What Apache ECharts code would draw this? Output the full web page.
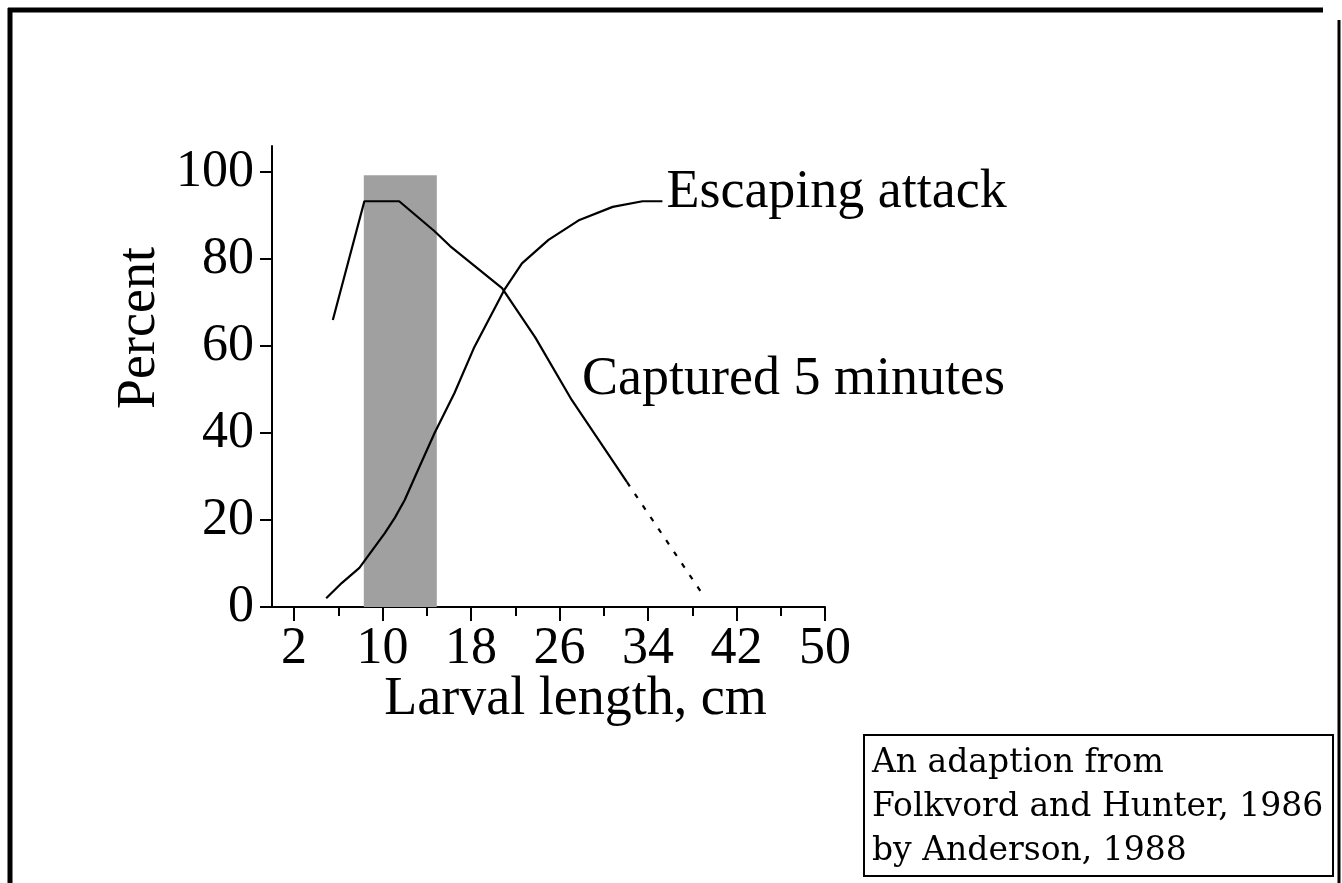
<!DOCTYPE html>
<html>
<head>
    <meta charset="utf-8">
    <title>Larval length</title>
    <script src="https://cdn.jsdelivr.net/npm/echarts@6/dist/echarts.min.js"></script>
    <style>
        body { margin: 0; background: #fff; }
        #chart1 { width: 1342px; height: 883px; }
    </style>
</head>
<body>
<div id="chart1"></div>
<script type="text/javascript">
    // values (x = larval length, y = percent)
    var capturedSolid = [[5.5, 66], [8.35, 93.3], [11.5, 93.3], [14.7, 86.4], [16.1, 83], [20.8, 73.3],
        [23.8, 62], [27.1, 47.6], [32.1, 28.7]];
    var capturedDashed = [[32.1, 28.7], [39.1, 2.3]];
    var escaping = [[4.9, 2], [6.3, 5.5], [7.9, 9], [10.2, 17], [11.1, 20.5], [12, 24.6], [13.2, 31.5],
        [14.7, 40], [16.5, 49.2], [18.3, 59.8], [21, 72.9], [22.6, 79], [25, 84.4], [27.8, 89],
        [30.8, 92], [33.5, 93.3], [35.3, 93.3]];
    var shadeBand = [8.3, 14.9, 99.3];
    var xLabels = [2, 10, 18, 26, 34, 42, 50];
    var xMinorTicks = [6, 14, 22, 30, 38, 46];
    var yLabels = [0, 20, 40, 60, 80, 100];
    var noteLines = ['An adaption from', 'Folkvord and Hunter, 1986', 'by Anderson, 1988'];

    var serif = '"Liberation Serif", "Times New Roman", serif';
    var black = '#000';

    var myChart1 = echarts.init(document.getElementById('chart1'));
    myChart1.setOption({
        backgroundColor: '#fff',
        animation: false,
        grid: { left: 272, top: 146, width: 553, height: 461 },
        xAxis: [{
            type: 'value', min: 0, max: 50,
            name: 'Larval length, cm', nameLocation: 'middle', nameGap: 66, nameMoveOverlap: false,
            nameTextStyle: { fontFamily: serif, fontSize: 54, color: black, padding: [0, 0, 0, 54] },
            axisLine: { lineStyle: { color: black, width: 2 } },
            axisTick: { show: true, length: 14, customValues: xLabels, lineStyle: { color: black, width: 2 } },
            axisLabel: { customValues: xLabels, margin: 16, fontFamily: serif, fontSize: 52, color: black },
            splitLine: { show: false }
        }, {
            // shorter in-between ticks
            type: 'value', min: 0, max: 50, position: 'bottom', gridIndex: 0,
            axisLine: { show: false },
            axisTick: { show: true, length: 9, customValues: xMinorTicks, lineStyle: { color: black, width: 2 } },
            axisLabel: { show: false },
            splitLine: { show: false }
        }],
        yAxis: {
            type: 'value', min: 0, max: 106,
            axisLine: { show: true, lineStyle: { color: black, width: 2 } },
            axisTick: { show: true, length: 12, customValues: yLabels, lineStyle: { color: black, width: 2 } },
            axisLabel: { customValues: yLabels, margin: 18, fontFamily: serif, fontSize: 52, color: black },
            splitLine: { show: false }
        },
        series: [{
            name: 'Escaping attack', type: 'line', data: escaping,
            symbol: 'none', lineStyle: { color: black, width: 2.2 },
            endLabel: {
                show: true, formatter: 'Escaping attack', distance: 4, offset: [0, -8],
                fontFamily: serif, fontSize: 54, color: black
            },
            markArea: {
                silent: true,
                itemStyle: { color: '#a0a0a0' },
                data: [[{ xAxis: shadeBand[0], yAxis: 0 }, { xAxis: shadeBand[1], yAxis: shadeBand[2] }]]
            },
            z: 3
        }, {
            name: 'Captured 5 minutes', type: 'line', data: capturedSolid,
            symbol: 'none', lineStyle: { color: black, width: 2.2 }, z: 3
        }, {
            name: 'Captured 5 minutes (dashed)', type: 'line', data: capturedDashed,
            symbol: 'none', lineStyle: { color: black, width: 2.2, type: [5, 9] }, z: 3
        }],
        graphic: [
            // outer frame
            { type: 'line', shape: { x1: 8, y1: 10, x2: 1323, y2: 10 }, style: { stroke: black, lineWidth: 5 } },
            { type: 'line', shape: { x1: 10, y1: 8, x2: 10, y2: 883 }, style: { stroke: black, lineWidth: 5 } },
            { type: 'line', shape: { x1: 1339, y1: 20, x2: 1339, y2: 883 }, style: { stroke: black, lineWidth: 3 } },
            {
                type: 'text', x: 140, y: 328, rotation: Math.PI / 2,
                style: { text: 'Percent', fontFamily: serif, fontSize: 54, fill: black, align: 'center', verticalAlign: 'middle' }
            },
            {
                type: 'text', x: 582, y: 380,
                style: { text: 'Captured 5 minutes', fontFamily: serif, fontSize: 54, fill: black, align: 'left', verticalAlign: 'middle' }
            },
            {
                type: 'rect', shape: { x: 864, y: 735, width: 469, height: 141 },
                style: { fill: '#fff', stroke: black, lineWidth: 2 }
            },
            {
                type: 'text', x: 872, y: 741,
                style: {
                    text: noteLines.join('\n'), fontFamily: '"DejaVu Serif", serif', fontSize: 33,
                    lineHeight: 44, fill: black, align: 'left', verticalAlign: 'top'
                }
            }
        ]
    });
</script>
</body>
</html>
